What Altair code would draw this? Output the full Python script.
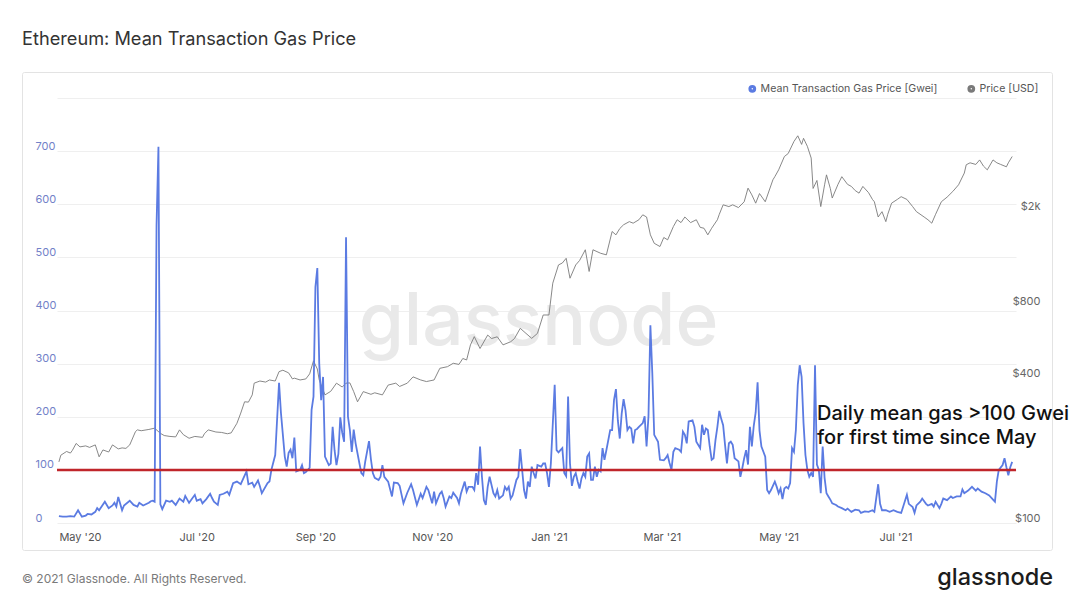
import altair as alt
import pandas as pd

# ---------------- data ----------------
START_DATE = "2020-04-20"   # day 0 of the series

# (day offset from START_DATE, mean transaction gas price in Gwei)
gas_points = [
    (0, 13), (2, 12), (4, 12), (6, 13), (8, 12), (10, 24), (12, 12), (14, 14), (15, 17), (17, 16),
    (19, 21), (20, 28), (21, 24), (24, 40), (26, 28), (28, 33), (29, 38), (30, 31), (31, 49), (33, 24),
    (34, 33), (37, 42), (39, 34), (41, 31), (42, 38), (44, 33), (47, 38), (48, 41), (49, 42), (50, 40),
    (51, 560), (52, 708), (53, 35), (54, 26), (56, 42), (58, 40), (59, 42), (61, 34), (63, 46), (65, 40),
    (66, 51), (68, 38), (71, 53), (72, 42), (74, 45), (75, 37), (77, 45), (79, 55), (80, 47), (81, 40),
    (83, 34), (84, 53), (86, 55), (88, 59), (89, 53), (91, 75), (93, 78), (95, 73), (96, 81), (98, 97),
    (99, 73), (101, 76), (102, 68), (104, 80), (105, 69), (106, 56), (109, 75), (110, 78), (111, 100), (113, 128),
    (115, 264), (116, 207), (118, 125), (119, 106), (120, 132), (121, 138), (122, 122), (123, 161), (124, 97), (126, 100),
    (127, 109), (128, 94), (129, 96), (131, 104), (132, 213), (133, 238), (134, 444), (135, 480), (136, 300), (137, 231),
    (138, 275), (139, 125), (141, 109), (142, 112), (143, 181), (144, 137), (145, 109), (146, 130), (147, 199), (148, 170),
    (149, 153), (150, 538), (151, 200), (152, 175), (153, 134), (154, 176), (155, 150), (157, 112), (158, 94), (159, 90),
    (160, 115), (162, 154), (163, 120), (164, 94), (165, 85), (167, 81), (168, 87), (169, 109), (170, 87), (172, 78),
    (174, 50), (175, 76), (177, 75), (178, 70), (180, 37), (182, 57), (184, 73), (185, 62), (187, 34), (189, 55),
    (190, 47), (192, 68), (193, 62), (195, 37), (196, 59), (197, 37), (199, 55), (200, 59), (201, 47), (202, 31),
    (204, 50), (205, 47), (206, 57), (208, 47), (209, 37), (210, 55), (212, 78), (213, 59), (214, 68), (216, 68),
    (217, 62), (218, 94), (219, 72), (220, 144), (221, 87), (222, 43), (223, 34), (224, 68), (225, 87), (227, 56),
    (228, 50), (229, 62), (230, 46), (232, 52), (233, 68), (234, 62), (235, 68), (236, 46), (237, 52), (239, 81),
    (240, 87), (241, 139), (242, 100), (243, 62), (244, 46), (245, 78), (246, 68), (247, 106), (248, 94), (249, 84),
    (250, 109), (252, 106), (253, 112), (254, 112), (255, 94), (256, 68), (257, 112), (259, 260), (260, 137), (261, 133),
    (262, 137), (263, 141), (264, 94), (265, 88), (266, 238), (267, 112), (268, 70), (269, 87), (270, 94), (271, 78),
    (272, 65), (273, 84), (274, 94), (275, 87), (276, 125), (277, 131), (278, 81), (279, 81), (280, 106), (281, 87),
    (282, 100), (283, 97), (284, 141), (285, 119), (286, 137), (288, 175), (289, 175), (290, 232), (291, 252), (292, 193),
    (293, 159), (294, 206), (295, 233), (296, 212), (297, 175), (298, 181), (299, 178), (300, 150), (301, 175), (302, 177),
    (303, 181), (305, 188), (306, 201), (307, 144), (308, 201), (309, 372), (310, 282), (311, 166), (313, 153), (314, 119),
    (316, 118), (317, 122), (318, 128), (319, 113), (320, 100), (321, 134), (322, 141), (324, 138), (325, 134), (326, 172),
    (327, 166), (328, 150), (329, 191), (331, 193), (332, 181), (333, 153), (335, 141), (336, 185), (337, 166), (338, 178),
    (339, 175), (340, 144), (341, 119), (342, 122), (343, 156), (344, 181), (345, 211), (346, 196), (347, 184), (348, 147),
    (349, 112), (350, 150), (351, 153), (352, 147), (353, 122), (355, 116), (356, 87), (357, 103), (358, 122), (359, 137),
    (360, 110), (361, 181), (362, 144), (363, 183), (364, 208), (365, 265), (366, 174), (367, 144), (369, 125), (370, 62),
    (371, 56), (372, 62), (374, 78), (375, 68), (376, 56), (377, 65), (378, 45), (379, 65), (380, 68), (381, 65),
    (382, 75), (383, 141), (384, 134), (385, 175), (386, 260), (387, 297), (388, 275), (389, 188), (390, 128), (391, 100),
    (392, 87), (393, 94), (394, 87), (395, 297), (396, 110), (397, 100), (398, 56), (399, 144), (400, 85), (401, 56),
    (402, 50), (403, 44), (404, 37), (406, 34), (407, 31), (409, 28), (411, 24), (412, 27), (414, 21), (416, 25),
    (418, 24), (419, 19), (421, 22), (423, 21), (425, 24), (426, 21), (428, 73), (429, 36), (430, 24), (432, 24),
    (434, 21), (436, 24), (438, 21), (440, 19), (441, 30), (443, 53), (444, 36), (446, 30), (447, 19), (448, 33),
    (450, 40), (451, 46), (453, 36), (454, 33), (456, 36), (457, 31), (458, 40), (460, 28), (461, 36), (462, 46),
    (464, 43), (466, 50), (467, 47), (469, 50), (471, 50), (472, 63), (473, 56), (475, 61), (477, 68), (479, 61),
    (480, 65), (482, 59), (484, 56), (486, 52), (488, 44), (489, 40), (490, 78), (491, 100), (493, 109), (494, 122),
    (495, 105), (496, 90), (497, 105), (498, 115),
]

# (day offset from START_DATE, ETH price in USD)
price_points = [
    (0, 180), (1, 192), (4, 199), (6, 196), (7, 201), (9, 215), (11, 208), (14, 210), (16, 207), (19, 212),
    (21, 189), (23, 202), (26, 198), (28, 212), (31, 204), (33, 206), (35, 205), (37, 212), (40, 241), (41, 245),
    (43, 243), (47, 246), (50, 249), (53, 237), (55, 232), (58, 230), (61, 229), (63, 245), (65, 234), (68, 226),
    (71, 230), (75, 228), (76, 236), (78, 245), (82, 240), (85, 239), (88, 236), (90, 238), (93, 261), (95, 288),
    (97, 321), (99, 320), (101, 343), (102, 384), (105, 392), (108, 388), (110, 396), (113, 392), (115, 429), (117, 435),
    (120, 424), (122, 400), (123, 403), (126, 396), (129, 400), (131, 420), (133, 476), (135, 440), (136, 396), (139, 343),
    (142, 355), (145, 384), (148, 370), (150, 384), (152, 385), (154, 354), (156, 321), (159, 354), (163, 345), (165, 350),
    (169, 343), (172, 377), (176, 384), (178, 372), (182, 384), (185, 408), (189, 396), (192, 390), (196, 396), (199, 443),
    (203, 450), (206, 465), (209, 460), (211, 487), (213, 480), (215, 555), (217, 601), (220, 536), (224, 610), (226, 590),
    (229, 600), (232, 555), (236, 572), (238, 590), (241, 651), (244, 620), (247, 591), (250, 620), (253, 740), (256, 740),
    (258, 1005), (261, 1198), (263, 1220), (265, 1277), (267, 1054), (270, 1198), (272, 1250), (275, 1386), (277, 1125), (279, 1386),
    (283, 1340), (286, 1320), (289, 1652), (291, 1600), (293, 1700), (295, 1763), (298, 1817), (300, 1790), (303, 1850), (305, 1940),
    (307, 1900), (309, 1600), (311, 1475), (314, 1430), (316, 1560), (318, 1525), (321, 1733), (323, 1850), (325, 1800), (327, 1900),
    (330, 1800), (333, 1850), (335, 1720), (337, 1705), (339, 1600), (341, 1705), (344, 1850), (345, 1950), (347, 2136), (350, 2100),
    (352, 2136), (355, 2080), (358, 2200), (360, 2508), (362, 2350), (364, 2170), (366, 2380), (369, 2200), (373, 2717), (374, 2800),
    (376, 2991), (379, 3400), (381, 3500), (384, 3930), (386, 4150), (388, 3820), (389, 4050), (391, 3750), (393, 3350), (394, 2500),
    (396, 2700), (398, 2100), (400, 2590), (401, 2850), (403, 2500), (404, 2280), (407, 2600), (409, 2800), (412, 2600), (414, 2550),
    (416, 2450), (418, 2390), (420, 2550), (423, 2400), (425, 2250), (426, 2200), (428, 1900), (430, 2000), (432, 1817), (433, 1950),
    (435, 2170), (438, 2250), (440, 2310), (443, 2250), (446, 2100), (448, 2000), (452, 1900), (454, 1850), (456, 1790), (458, 1950),
    (461, 2200), (464, 2300), (467, 2430), (470, 2590), (473, 2900), (474, 3140), (476, 3200), (479, 3150), (481, 3290), (483, 3100),
    (485, 2991), (488, 3290), (490, 3200), (492, 3150), (495, 3080), (496, 3200), (498, 3400),
]

series_names = ["Mean Transaction Gas Price [Gwei]", "Price [USD]"]
series_colors = ["#5b7be2", "#7a7a7a"]

gas_ticks = [0, 100, 200, 300, 400, 500, 600, 700, 800]
gas_domain = [0, 800]
price_ticks = [100, 400, 800, 2000]
price_domain = [100, 5970]
threshold_gwei = [100]

month_ticks = [(2020, 5), (2020, 7), (2020, 9), (2020, 11), (2021, 1), (2021, 3), (2021, 5), (2021, 7)]
x_domain = [(2020, 4, 19), (2021, 9, 2)]

title_text = "Ethereum: Mean Transaction Gas Price"
annotation_lines = ["Daily mean gas >100 Gwei", "for first time since May"]
footer_text = "\u00a9 2021 Glassnode. All Rights Reserved."
brand_text = "glassnode"

# ---------------- tables ----------------
start = pd.Timestamp(START_DATE)
gas_df = pd.DataFrame({
    "date": [start + pd.Timedelta(days=d) for d, _ in gas_points],
    "value": [v for _, v in gas_points],
    "series": series_names[0],
})
price_df = pd.DataFrame({
    "date": [start + pd.Timedelta(days=d) for d, _ in price_points],
    "value": [v for _, v in price_points],
    "series": series_names[1],
})
threshold_df = pd.DataFrame({"gwei": threshold_gwei})
one_row = pd.DataFrame({"k": [0]})

FONT = "Inter"

# ---------------- encodings ----------------
x_enc = alt.X(
    "date:T", title=None,
    scale=alt.Scale(domain=[alt.DateTime(year=y, month=m, date=d) for y, m, d in x_domain]),
    axis=alt.Axis(
        values=[alt.DateTime(year=y, month=m, date=1) for y, m in month_ticks],
        format="%b '%y", labelColor="#555555", labelFontSize=11, labelFont=FONT,
        ticks=False, tickSize=0, domain=False, grid=False, labelPadding=8,
    ),
)

gas_axis = alt.Axis(
    values=gas_ticks, labelExpr="datum.value == 800 ? '' : datum.label",
    grid=True, gridColor="#efefef", gridWidth=1, ticks=False, tickSize=0, domain=False,
    labelAlign="left", labelPadding=22, labelColor="#7281c8", labelFontSize=11,
    labelFont=FONT, labelOffset=-5, title=None,
)
gas_scale = alt.Scale(domain=gas_domain, nice=False, zero=True)

price_axis = alt.Axis(
    orient="right", values=price_ticks,
    labelExpr="datum.value >= 1000 ? '$' + (datum.value / 1000) + 'k' : '$' + datum.value",
    grid=False, ticks=False, tickSize=0, domain=False,
    labelAlign="right", labelPadding=24, labelColor="#666666", labelFontSize=11,
    labelFont=FONT, labelOffset=-5, title=None,
)
price_scale = alt.Scale(type="log", domain=price_domain, nice=False)

legend = alt.Legend(
    orient="none", legendX=690, legendY=-15, direction="horizontal", title=None,
    symbolType="circle", symbolSize=10, symbolStrokeWidth=4.6, labelFont=FONT,
    labelFontSize=10.6, labelColor="#555555", labelOffset=3, columnPadding=22, padding=0,
    labelLimit=400,
)
color_enc = alt.Color("series:N", scale=alt.Scale(domain=series_names, range=series_colors), legend=legend)

# ---------------- marks ----------------
frame = alt.Chart(one_row).mark_rect(
    fill="transparent", stroke="#e3e3e3", strokeWidth=1, cornerRadius=2
).encode(x=alt.value(-34.5), x2=alt.value(995.5), y=alt.value(-25.5), y2=alt.value(452.5))

watermark = alt.Chart(one_row).mark_text(
    text=brand_text, font=FONT, fontSize=73, fontWeight=500, color="#e9e9e9",
    align="center", baseline="alphabetic",
).encode(x=alt.value(481.5), y=alt.value(247))

gas_line = alt.Chart(gas_df).mark_line(strokeWidth=1.8, interpolate="linear").encode(
    x=x_enc, y=alt.Y("value:Q", title=None, scale=gas_scale, axis=gas_axis), color=color_enc,
)
rule = alt.Chart(threshold_df).mark_rule(color="#c0252b", strokeWidth=2.5).encode(
    y=alt.Y("gwei:Q", title=None, scale=gas_scale, axis=gas_axis),
)
gas_layer = alt.layer(gas_line, rule)

price_line = alt.Chart(price_df).mark_line(strokeWidth=0.9, interpolate="linear").encode(
    x=x_enc, y=alt.Y("value:Q", title=None, scale=price_scale, axis=price_axis), color=color_enc,
)

annotation = alt.Chart(one_row).mark_text(
    text=annotation_lines, font=FONT, fontSize=20, fontWeight=500, color="#111111",
    align="left", baseline="alphabetic", lineHeight=24,
).encode(x=alt.value(760), y=alt.value(321.5))

title_mark = alt.Chart(one_row).mark_text(
    text=title_text, font=FONT, fontSize=18.2, fontWeight=400, color="#333333",
    align="left", baseline="alphabetic",
).encode(x=alt.value(-35), y=alt.value(-53))

footer = alt.Chart(one_row).mark_text(
    text=footer_text, font=FONT, fontSize=12, color="#7a7a7a",
    align="left", baseline="alphabetic",
).encode(x=alt.value(-35), y=alt.value(484.5))

brand = alt.Chart(one_row).mark_text(
    text=brand_text, font=FONT, fontSize=23.5, fontWeight=500, color="#1c1c1c",
    align="right", baseline="alphabetic",
).encode(x=alt.value(996), y=alt.value(487))

chart = alt.layer(
    frame, watermark, price_line, gas_layer, annotation, title_mark, footer, brand
).resolve_scale(y="independent").properties(
    width=959, height=425,
    padding={"left": 49, "top": 90, "right": 56, "bottom": 75},
    autosize=alt.AutoSizeParams(type="none"),
).configure(font=FONT).configure_view(stroke=None)

chart.save("out.html", embed_options={"renderer": "svg", "actions": False})
